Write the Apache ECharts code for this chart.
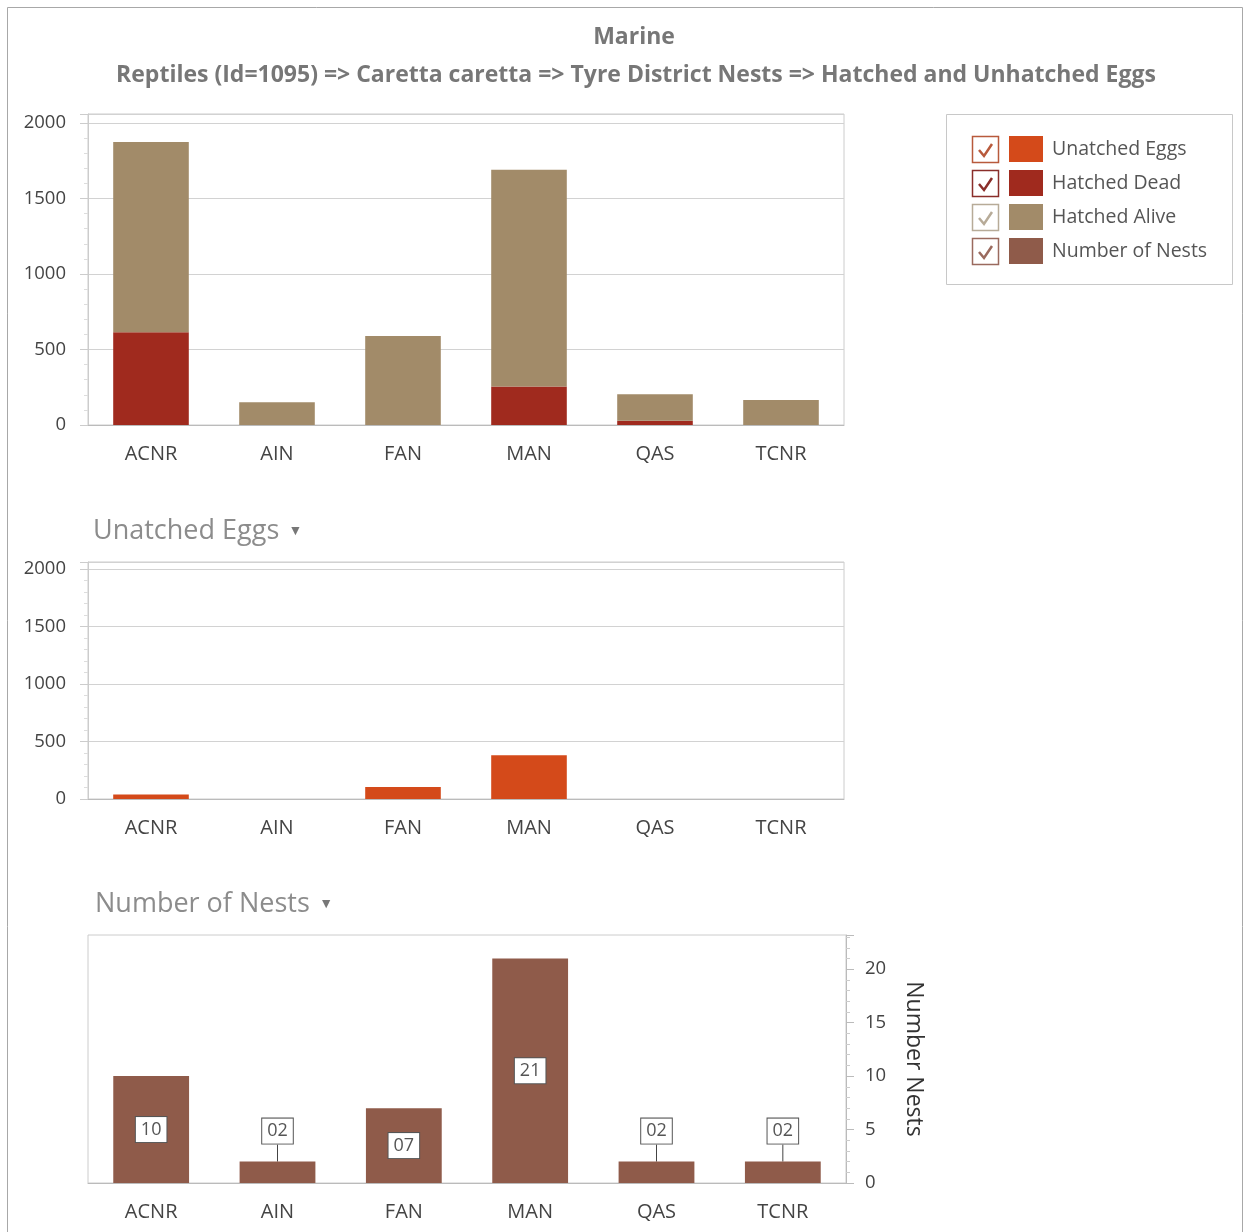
<!DOCTYPE html>
<html><head><meta charset="utf-8">
<script src="https://cdn.jsdelivr.net/npm/echarts@6/dist/echarts.min.js"></script>
<style>html,body{margin:0;padding:0;background:#fff}#c{width:1245px;height:1232px}</style>
</head><body><div id="c"></div><script>
// ---- data ----
const categories = ['ACNR', 'AIN', 'FAN', 'MAN', 'QAS', 'TCNR'];
const hatchedDead = [615, 0, 0, 255, 28, 0];
const hatchedAlive = [1260, 150, 590, 1435, 175, 165];
const unhatchedEggs = [40, 0, 105, 380, 0, 0];
const numberOfNests = [10, 2, 7, 21, 2, 2];
const eggTicks = [0, 500, 1000, 1500, 2000];
const nestTicks = [0, 5, 10, 15, 20];
const seriesNames = ['Unatched Eggs', 'Hatched Dead', 'Hatched Alive', 'Number of Nests'];
const seriesColors = ['#d44a1a', '#a02a1e', '#a28b69', '#8f5b4a'];
const checkColors = ['#b85a3c', '#8a2e2a', '#b7ab98', '#9a6a5e'];

const FONT = 'Open Sans';
const chart = echarts.init(document.getElementById('c'), null, {renderer: 'canvas'});

function xAxisCfg(gi) {
  return {
    type: 'category', gridIndex: gi, data: categories,
    axisLine: {lineStyle: {color: '#bbb'}},
    axisTick: {alignWithLabel: true, length: 8, lineStyle: {color: '#bbb'}},
    axisLabel: {fontFamily: FONT, fontSize: 20, color: '#444', margin: 19}
  };
}
function eggAxis(gi) {
  return {
    type: 'value', gridIndex: gi, min: 0, max: 2060, interval: 500,
    axisLine: {show: true, lineStyle: {color: '#ccc'}},
    axisTick: {show: true, length: 8, lineStyle: {color: '#ccc'}},
    minorTick: {show: true, splitNumber: 5, length: 4, lineStyle: {color: '#ddd'}},
    splitLine: {lineStyle: {color: '#d2d2d2'}},
    axisLabel: {fontFamily: FONT, fontSize: 18.5, color: '#444', margin: 22,
      formatter: v => eggTicks.indexOf(v) >= 0 ? String(v) : ''}
  };
}

const checkGraphics = [];
seriesNames.forEach((n, i) => {
  const y = 136 + 34 * i;
  checkGraphics.push({type: 'rect', shape: {x: 972.5, y: y + 0.5, width: 26, height: 26},
    style: {fill: '#fff', stroke: checkColors[i], lineWidth: 1.5}});
  checkGraphics.push({type: 'polyline', shape: {points: [[979, y + 14], [984, y + 20], [992, y + 8]]},
    style: {stroke: checkColors[i], lineWidth: 2.5, fill: null}});
});

const panelRich = {
  a: {fontFamily: FONT, fontSize: 27, fontWeight: 'normal', color: '#8c8c8c'},
  b: {fontSize: 14, fontWeight: 'normal', color: '#777'}
};

const option = {
  animation: false,
  backgroundColor: '#fff',
  textStyle: {fontFamily: FONT},
  title: [
    {text: 'Marine', left: 629, top: 21, textAlign: 'center',
      textStyle: {fontFamily: FONT, fontSize: 23, fontWeight: 'bold', color: '#777'}},
    {text: 'Reptiles (Id=1095) => Caretta caretta => Tyre District Nests => Hatched and Unhatched Eggs',
      left: 631, top: 59, textAlign: 'center',
      textStyle: {fontFamily: FONT, fontSize: 23, fontWeight: 'bold', color: '#777'}},
    {text: '{a|Unatched Eggs}  {b|▼}', left: 88, top: 513, textStyle: {rich: panelRich}},
    {text: '{a|Number of Nests}  {b|▼}', left: 90, top: 886, textStyle: {rich: panelRich}}
  ],
  legend: {
    orient: 'vertical', left: 1009, top: 136, padding: 0,
    itemWidth: 34, itemHeight: 26, itemGap: 8, icon: 'rect',
    selectedMode: false,
    data: seriesNames,
    textStyle: {fontFamily: FONT, fontSize: 19.5, color: '#555', padding: [0, 0, 0, 4]}
  },
  graphic: [
    {type: 'rect', shape: {x: 7.5, y: 7.5, width: 1235, height: 1240}, style: {fill: null, stroke: '#a8a8a8', lineWidth: 1}, silent: true, z: -10},
    {type: 'rect', shape: {x: 946.5, y: 114.5, width: 286, height: 170}, style: {fill: null, stroke: '#c8c8c8', lineWidth: 1}, silent: true},
    ...checkGraphics
  ],
  grid: [
    {left: 88, top: 114, width: 756, height: 311, show: true, borderColor: '#ccc', borderWidth: 1},
    {left: 88, top: 562, width: 756, height: 237, show: true, borderColor: '#ccc', borderWidth: 1},
    {left: 88, top: 935, width: 758, height: 248, show: true, borderColor: '#ccc', borderWidth: 1}
  ],
  xAxis: [xAxisCfg(0), xAxisCfg(1), xAxisCfg(2)],
  yAxis: [
    eggAxis(0), eggAxis(1),
    {
      type: 'value', gridIndex: 2, position: 'right', min: 0, max: 23.2, interval: 5,
      axisLine: {show: true, lineStyle: {color: '#bbb'}},
      axisTick: {show: true, length: 8, lineStyle: {color: '#bbb'}},
      minorTick: {show: true, splitNumber: 5, length: 4, lineStyle: {color: '#ccc'}},
      splitLine: {show: false},
      axisLabel: {fontFamily: FONT, fontSize: 18.5, color: '#444', margin: 19,
        formatter: v => nestTicks.indexOf(v) >= 0 ? String(v) : ''},
      name: 'Number Nests', nameLocation: 'middle', nameRotate: -90, nameGap: 56,
      nameTextStyle: {fontFamily: FONT, fontSize: 23, color: '#333'}
    }
  ],
  series: [
    {name: 'Unatched Eggs', type: 'bar', xAxisIndex: 1, yAxisIndex: 1, data: unhatchedEggs,
      barWidth: '60%', itemStyle: {color: seriesColors[0]}},
    {name: 'Hatched Dead', type: 'bar', xAxisIndex: 0, yAxisIndex: 0, stack: 'h', data: hatchedDead,
      barWidth: '60%', itemStyle: {color: seriesColors[1]}},
    {name: 'Hatched Alive', type: 'bar', xAxisIndex: 0, yAxisIndex: 0, stack: 'h', data: hatchedAlive,
      barWidth: '60%', itemStyle: {color: seriesColors[2]}},
    {name: 'Number of Nests', type: 'bar', xAxisIndex: 2, yAxisIndex: 2, data: numberOfNests,
      barWidth: '60%', itemStyle: {color: seriesColors[3]},
      label: {show: true, position: 'inside', fontFamily: FONT, fontSize: 18, color: '#555',
        backgroundColor: '#fff', borderColor: '#555', borderWidth: 1, padding: [4, 5, 3, 5],
        formatter: p => String(p.value).padStart(2, '0')},
      labelLine: {show: true, lineStyle: {color: '#444', width: 1}},
      labelLayout: function (p) {
        if (p.rect.height > p.labelRect.height + 10) return {};
        const cur = p.labelRect.y + p.labelRect.height / 2;
        const target = p.rect.y - 17 - p.labelRect.height / 2;
        return {dy: target - cur};
      }
    }
  ]
};
chart.setOption(option);
</script></body></html>
